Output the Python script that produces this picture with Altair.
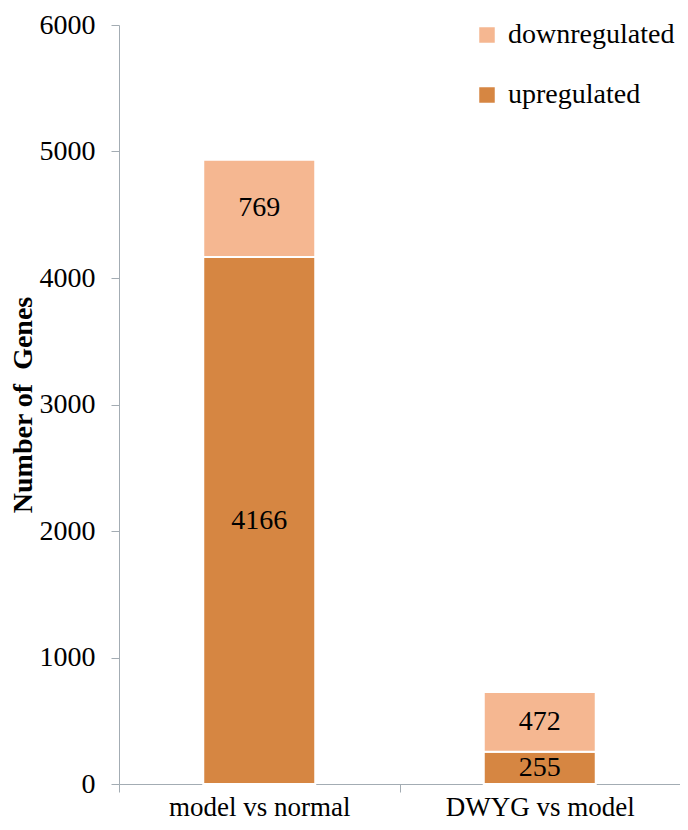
import altair as alt
import pandas as pd

comparisons = ["model vs normal", "model vs normal", "DWYG vs model", "DWYG vs model"]
regulation = ["upregulated", "downregulated", "upregulated", "downregulated"]
counts = [4166, 769, 255, 472]
stack_order = [1, 2, 1, 2]

df = pd.DataFrame({
    "comparison": comparisons,
    "regulation": regulation,
    "count": counts,
    "order": stack_order,
})

cat_order = ["model vs normal", "DWYG vs model"]
legend_domain = ["downregulated", "upregulated"]
legend_colors = ["#F5B791", "#D68642"]
y_ticks = [0, 1000, 2000, 3000, 4000, 5000, 6000]
FONT = "Liberation Serif"
AX = "#A3ACB3"
FS = 28

bars = alt.Chart(df).mark_bar(size=112, stroke="white", strokeWidth=2).encode(
    x=alt.X("comparison:N", sort=cat_order,
            scale=alt.Scale(paddingInner=0, paddingOuter=0),
            axis=alt.Axis(title=None, labelAngle=0, tickBand="extent",
                          labelFont=FONT, labelFontSize=27, labelColor="#000",
                          labelLimit=0, labelPadding=2, domainColor=AX, tickColor=AX,
                          tickSize=8, grid=False)),
    y=alt.Y("count:Q", stack="zero",
            scale=alt.Scale(domain=[0, 6000]),
            axis=alt.Axis(title="Number of\u00a0 Genes", values=y_ticks, format="d",
                          labelFont=FONT, labelFontSize=FS, labelColor="#000",
                          labelPadding=16, titleFont=FONT, titleFontSize=28,
                          titleFontWeight="bold", titleColor="#000", titlePadding=2,
                          domainColor=AX, tickColor=AX, tickSize=8, grid=False)),
    color=alt.Color("regulation:N",
                    scale=alt.Scale(domain=legend_domain, range=legend_colors),
                    legend=alt.Legend(title=None, orient="none", legendX=354, legendY=-4,
                                      symbolType="square", symbolSize=240,
                                      symbolStrokeWidth=0, labelFont=FONT,
                                      labelFontSize=FS, labelColor="#000",
                                      labelOffset=7, rowPadding=32, labelLimit=0)),
    order=alt.Order("order:Q"),
)

mid = alt.Chart(df).transform_stack(
    stack="count", groupby=["comparison"], as_=["y0", "y1"],
    sort=[alt.SortField("order")]
).transform_calculate(ym="(datum.y0 + datum.y1) / 2").mark_text(
    font=FONT, fontSize=FS, color="#000", baseline="middle"
).encode(
    x=alt.X("comparison:N", sort=cat_order),
    y=alt.Y("ym:Q"),
    text=alt.Text("count:Q"),
)

chart = alt.layer(bars, mid).properties(
    width=561, height=759,
    autosize=alt.AutoSizeParams(type="none"),
    padding={"left": 111, "top": 17, "right": 0, "bottom": 38},
).configure_view(stroke=None)

chart.save("out.html", embed_options={"renderer": "svg", "actions": False})
